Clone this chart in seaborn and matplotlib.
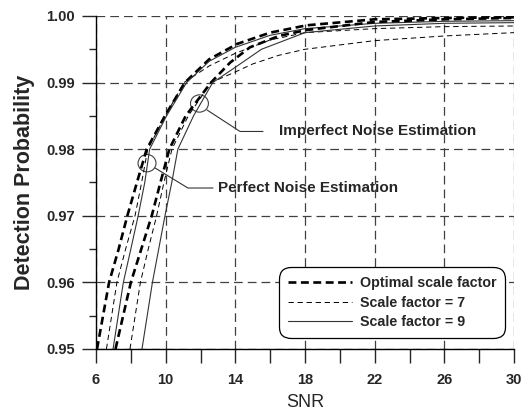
import numpy as np
import pandas as pd
import matplotlib
matplotlib.use("Agg")
import matplotlib.pyplot as plt
from matplotlib.patches import Ellipse
from matplotlib.lines import Line2D
import seaborn as sns

# Perfect noise estimation curves
perf_opt_snr = [6.06, 6.75, 7.3, 7.8, 8.35, 8.91, 9.96, 11.1, 12.5, 14.1, 16.0, 18.1, 22.0, 26.0, 30.0]
perf_opt_pd = [0.950, 0.960, 0.965, 0.970, 0.975, 0.980, 0.985, 0.990, 0.9935, 0.9958, 0.9975, 0.9986, 0.9995, 0.9997, 0.9998]
perf_s7_snr = [6.6, 7.2, 7.7, 8.24, 8.62, 8.97, 9.98, 11.05, 12.5, 14.0, 16.0, 18.0, 22.0, 26.0, 30.0]
perf_s7_pd = [0.950, 0.960, 0.965, 0.970, 0.975, 0.980, 0.985, 0.990, 0.9925, 0.9944, 0.9964, 0.9975, 0.9981, 0.9984, 0.9985]
perf_s9_snr = [6.98, 7.57, 8.0, 8.42, 8.8, 9.08, 10.05, 11.2, 12.5, 14.0, 16.0, 18.0, 22.0, 26.0, 30.0]
perf_s9_pd = [0.950, 0.960, 0.965, 0.970, 0.975, 0.980, 0.985, 0.990, 0.9932, 0.9953, 0.9971, 0.9981, 0.9989, 0.9992, 0.9993]

# Imperfect noise estimation curves
imp_opt_snr = [7.12, 8.0, 8.6, 9.2, 9.7, 10.21, 11.15, 12.6, 13.7, 14.84, 16.5, 18.1, 22.0, 26.0, 30.0]
imp_opt_pd = [0.950, 0.960, 0.965, 0.970, 0.975, 0.980, 0.985, 0.990, 0.993, 0.9953, 0.997, 0.9979, 0.9991, 0.9995, 0.9997]
imp_s7_snr = [7.95, 8.55, 9.0, 9.48, 9.9, 10.36, 11.3, 12.6, 14.0, 15.0, 16.5, 18.0, 22.0, 26.0, 30.0]
imp_s7_pd = [0.950, 0.960, 0.965, 0.970, 0.975, 0.980, 0.985, 0.990, 0.9916, 0.9928, 0.9941, 0.995, 0.9963, 0.997, 0.9975]
imp_s9_snr = [8.64, 9.24, 9.6, 9.96, 10.35, 10.7, 11.6, 12.7, 14.0, 15.5, 18.0, 22.0, 26.0, 30.0]
imp_s9_pd = [0.950, 0.960, 0.965, 0.970, 0.975, 0.980, 0.985, 0.990, 0.9923, 0.995, 0.9975, 0.9985, 0.9989, 0.999]

x_ticks = [6, 10, 14, 18, 22, 26, 30]
y_ticks = [0.95, 0.96, 0.97, 0.98, 0.99, 1.00]
legend_labels = ["Optimal scale factor", "Scale factor = 7", "Scale factor = 9"]

# annotation anchors (data coords)
perf_circle = (8.93, 0.9779)
imp_circle = (11.94, 0.98686)
perf_leader_x = [9.39, 11.28, 12.72]
perf_leader_y = [0.97718, 0.97417, 0.97417]
imp_leader_x = [12.37, 14.27, 15.59]
imp_leader_y = [0.98589, 0.98266, 0.98266]

sns.set_style("white")
plt.rcParams["font.family"] = ["Liberation Sans", "DejaVu Sans"]

styles = {
    "opt": dict(color="black", lw=1.9, linestyle=(0, (3.0, 1.7))),
    "s7": dict(color="black", lw=0.7, linestyle=(0, (5.5, 3.8))),
    "s9": dict(color="0.2", lw=0.8, linestyle="-"),
}

fig = plt.figure(figsize=(5.22, 4.13), dpi=100)
ax = fig.add_axes([0.1839, 0.155, 0.8008, 0.8063])

series = [
    (perf_opt_snr, perf_opt_pd, "opt"),
    (perf_s7_snr, perf_s7_pd, "s7"),
    (perf_s9_snr, perf_s9_pd, "s9"),
    (imp_opt_snr, imp_opt_pd, "opt"),
    (imp_s7_snr, imp_s7_pd, "s7"),
    (imp_s9_snr, imp_s9_pd, "s9"),
]
for snr, pd_vals, key in series:
    df = pd.DataFrame({"snr": snr, "pd": pd_vals})
    sns.lineplot(data=df, x="snr", y="pd", ax=ax, estimator=None, sort=False, **styles[key])

ax.set_xlim(6, 30)
ax.set_ylim(0.95, 1.0)
ax.set_xticks(x_ticks)
ax.set_xticks([8, 12, 16, 20, 24, 28], minor=True)
ax.set_yticks(y_ticks)
ax.set_yticks([0.955, 0.965, 0.975, 0.985, 0.995], minor=True)
ax.set_yticklabels([f"{v:.2f}" for v in y_ticks])
ax.tick_params(axis="x", which="both", direction="out", length=10, width=1, pad=7,
               labelsize=10.5, bottom=True)
ax.tick_params(axis="y", which="major", direction="out", length=10, width=1, pad=5,
               labelsize=10.5, left=True)
ax.tick_params(axis="y", which="minor", direction="out", length=5, width=1, left=True)
for lab in ax.get_xticklabels() + ax.get_yticklabels():
    lab.set_fontweight("bold")

ax.grid(True, which="major", color="0.25", lw=0.9, linestyle=(0, (7, 4)))
for side in ["top", "right"]:
    ax.spines[side].set_visible(False)
for side in ["left", "bottom"]:
    ax.spines[side].set_color("black")
    ax.spines[side].set_linewidth(1)

ax.set_xlabel("SNR", fontsize=13, labelpad=5)
ax.set_ylabel("Detection Probability", fontsize=15.5, fontweight="bold", labelpad=8)

# annotations
for c in [perf_circle, imp_circle]:
    ax.add_patch(Ellipse(c, width=1.03, height=0.0026, fill=False, ec="0.25", lw=0.8))
ax.plot(perf_leader_x, perf_leader_y, color="0.2", lw=0.8)
ax.plot(imp_leader_x, imp_leader_y, color="0.2", lw=0.8)
ax.text(13.0, perf_leader_y[-1], "Perfect Noise Estimation", fontsize=11,
        fontweight="bold", va="center", ha="left")
ax.text(16.5, imp_leader_y[-1], "Imperfect Noise Estimation", fontsize=11,
        fontweight="bold", va="center", ha="left")

handles = [Line2D([], [], **styles[k]) for k in ["opt", "s7", "s9"]]
leg = ax.legend(handles, legend_labels, loc="lower right", bbox_to_anchor=(0.978, 0.033),
                borderaxespad=0, frameon=True, fancybox=True, handlelength=4.5,
                handletextpad=0.5, labelspacing=0.4, borderpad=0.6,
                prop={"weight": "bold", "size": 10.3})
leg.get_frame().set_edgecolor("black")
leg.get_frame().set_linewidth(0.9)
leg.get_frame().set_alpha(1)
leg.get_frame().set_boxstyle("round", pad=0, rounding_size=0.8)

fig.savefig("out.png", dpi=100)
